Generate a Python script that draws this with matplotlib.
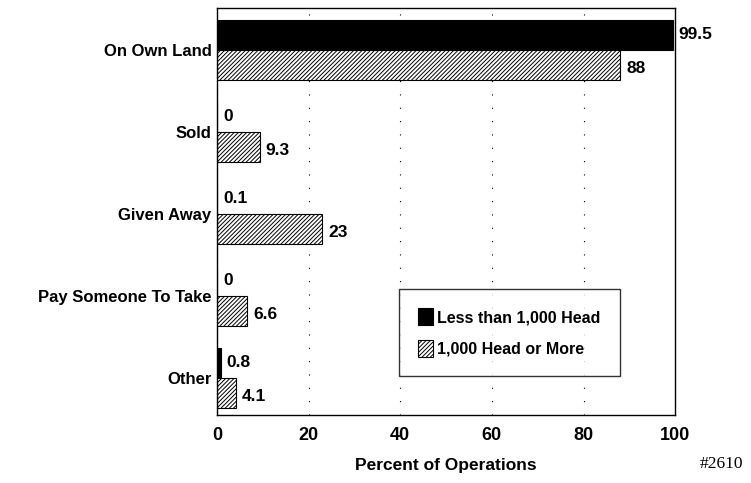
import numpy as np
import matplotlib.pyplot as plt

plt.rcParams['font.family'] = ['Liberation Sans', 'DejaVu Sans']
plt.rcParams['font.weight'] = 'bold'
plt.rcParams['hatch.linewidth'] = 0.7

categories = ['On Own Land', 'Sold', 'Given Away', 'Pay Someone To Take', 'Other']
small_ops = [99.5, 0, 0.1, 0, 0.8]
large_ops = [88, 9.3, 23, 6.6, 4.1]
value_labels_small = ['99.5', '0', '0.1', '0', '0.8']
value_labels_large = ['88', '9.3', '23', '6.6', '4.1']

fig = plt.figure(figsize=(7.51, 4.83), dpi=100)
ax = fig.add_axes([0.289, 0.141, 0.610, 0.842])

y = np.arange(len(categories))
h = 0.37

ax.barh(y - h / 2, small_ops, height=h, color='black', edgecolor='black',
        linewidth=0.8, label='Less than 1,000 Head')
ax.barh(y + h / 2, large_ops, height=h, color='white', edgecolor='black',
        hatch='////////', linewidth=0.8, label='1,000 Head or More')

for yy, v, s in zip(y, small_ops, value_labels_small):
    ax.text(v + 1.3, yy - h / 2, s, va='center', ha='left', fontsize=12.5, fontweight='bold')
for yy, v, s in zip(y, large_ops, value_labels_large):
    ax.text(v + 1.3, yy + h / 2 + 0.04, s, va='center', ha='left', fontsize=12.5, fontweight='bold')

ax.set_xlim(0, 100)
ax.set_ylim(4.45, -0.51)
ax.set_xticks([0, 20, 40, 60, 80, 100])
ax.set_yticks(y)
ax.set_yticklabels(categories, fontsize=12, fontweight='bold')
ax.tick_params(axis='x', length=0, labelsize=13, pad=9)
ax.tick_params(axis='y', length=0, pad=4)
for lbl in ax.get_xticklabels():
    lbl.set_fontweight('bold')

for gx in [20, 40, 60, 80]:
    ax.axvline(gx, color='black', linewidth=0.8, linestyle=(0, (1, 11)), zorder=0)

for sp in ax.spines.values():
    sp.set_linewidth(1.0)

ax.set_xlabel('Percent of Operations', fontsize=12.5, fontweight='bold', labelpad=10)

leg = ax.legend(loc='lower right', bbox_to_anchor=(0.897, 0.075), frameon=True,
                fancybox=False, edgecolor='black', handlelength=0.9,
                handleheight=1.3, handletextpad=0.3, labelspacing=0.9,
                borderpad=1.2, prop={'weight': 'bold', 'size': 11.5})
leg.get_frame().set_linewidth(1.0)

fig.text(0.932, 0.032, '#2610', family='Liberation Serif', fontweight='normal',
         fontsize=12.5, ha='left', va='baseline')

fig.savefig('out.png', dpi=100)
